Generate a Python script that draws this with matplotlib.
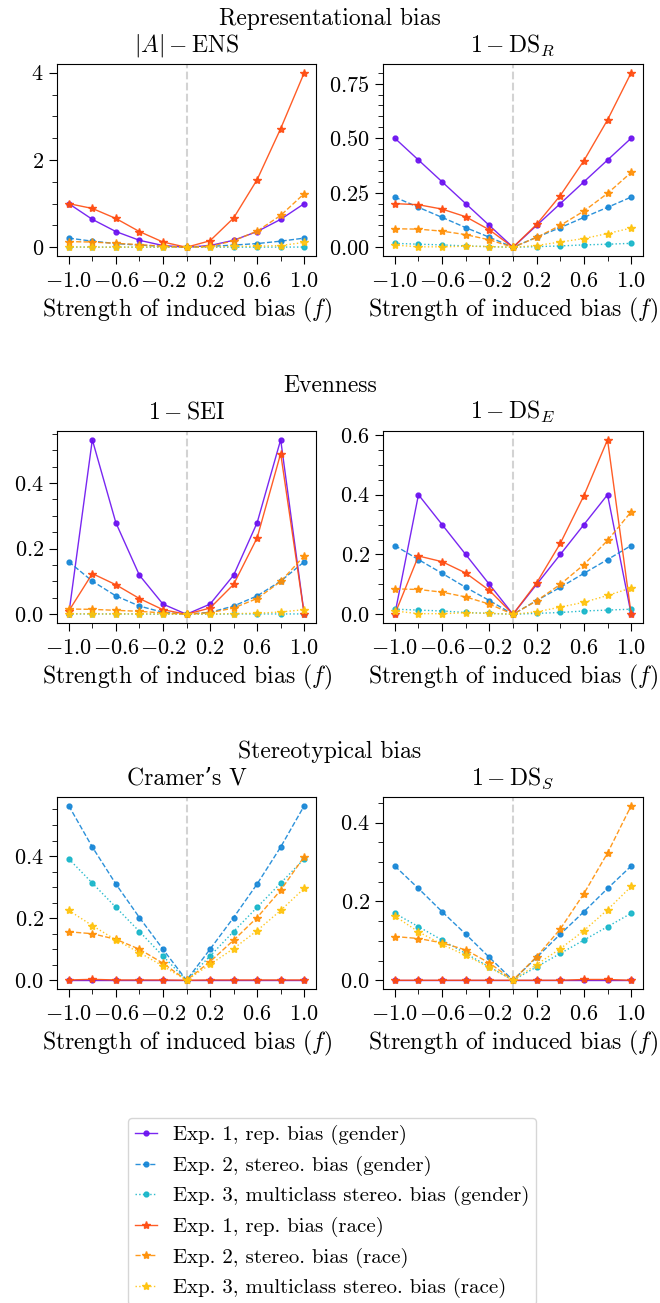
import numpy as np
import matplotlib
matplotlib.use("Agg")
import matplotlib.pyplot as plt
from matplotlib.ticker import AutoMinorLocator, FixedLocator

plt.rcParams["font.family"] = ["cmr10", "DejaVu Serif"]
plt.rcParams["mathtext.fontset"] = "cm"
plt.rcParams["axes.formatter.use_mathtext"] = True
plt.rcParams["axes.unicode_minus"] = True

# ── data ──────────────────────────────────────────────────────────────────────
f_vals = [-1.0, -0.8, -0.6, -0.4, -0.2, 0.0, 0.2, 0.4, 0.6, 0.8, 1.0]

# |A| - ENS
ens_e1g = [1.0, 0.64, 0.36, 0.16, 0.04, 0.0, 0.04, 0.16, 0.36, 0.64, 1.0]
ens_e2g = [0.21, 0.14, 0.085, 0.05, 0.02, 0.0, 0.02, 0.05, 0.085, 0.14, 0.21]
ens_e3g = [0.005, 0.004, 0.003, 0.002, 0.001, 0.0, 0.001, 0.002, 0.003, 0.004, 0.005]
ens_e1r = [1.0, 0.89, 0.66, 0.36, 0.12, 0.0, 0.15, 0.67, 1.55, 2.72, 4.0]
ens_e2r = [0.13, 0.12, 0.09, 0.06, 0.025, 0.0, 0.02, 0.15, 0.37, 0.73, 1.23]
ens_e3r = [0.01, 0.002, 0.002, 0.005, 0.003, 0.0, 0.008, 0.02, 0.025, 0.04, 0.11]

# 1 - DS_R
dsr_e1g = [0.5, 0.4, 0.3, 0.2, 0.1, 0.0, 0.1, 0.2, 0.3, 0.4, 0.5]
dsr_e2g = [0.23, 0.183, 0.137, 0.09, 0.046, 0.0, 0.046, 0.09, 0.137, 0.183, 0.23]
dsr_e3g = [0.018, 0.014, 0.011, 0.006, 0.003, 0.0, 0.003, 0.006, 0.011, 0.014, 0.018]
dsr_e1r = [0.2, 0.195, 0.175, 0.14, 0.08, 0.0, 0.105, 0.237, 0.397, 0.584, 0.8]
dsr_e2r = [0.085, 0.083, 0.074, 0.058, 0.034, 0.0, 0.045, 0.1, 0.166, 0.247, 0.343]
dsr_e3r = [0.01, 0.002, 0.002, 0.005, 0.003, 0.0, 0.008, 0.024, 0.04, 0.063, 0.088]

# 1 - SEI
sei_e1g = [0.0, 0.532, 0.279, 0.119, 0.031, 0.0, 0.031, 0.119, 0.279, 0.532, 0.0]
sei_e2g = [0.16, 0.101, 0.056, 0.025, 0.006, 0.0, 0.006, 0.025, 0.056, 0.101, 0.16]
sei_e3g = [0.001, 0.001, 0.001, 0.001, 0.0, 0.0, 0.0, 0.001, 0.001, 0.001, 0.001]
sei_e1r = [0.01, 0.124, 0.09, 0.048, 0.014, 0.0, 0.019, 0.091, 0.233, 0.49, 0.0]
sei_e2r = [0.016, 0.015, 0.012, 0.009, 0.004, 0.0, 0.005, 0.019, 0.048, 0.1, 0.178]
sei_e3r = [0.002, 0.001, 0.001, 0.001, 0.001, 0.0, 0.001, 0.002, 0.003, 0.007, 0.014]

# 1 - DS_E
dse_e1g = [0.0, 0.4, 0.3, 0.2, 0.1, 0.0, 0.1, 0.2, 0.3, 0.4, 0.0]
dse_e2g = [0.23, 0.183, 0.137, 0.09, 0.046, 0.0, 0.046, 0.09, 0.137, 0.183, 0.23]
dse_e3g = [0.017, 0.014, 0.011, 0.006, 0.003, 0.0, 0.003, 0.006, 0.011, 0.014, 0.017]
dse_e1r = [0.0, 0.195, 0.176, 0.138, 0.08, 0.0, 0.105, 0.237, 0.397, 0.584, 0.0]
dse_e2r = [0.085, 0.083, 0.074, 0.058, 0.034, 0.0, 0.045, 0.1, 0.166, 0.247, 0.343]
dse_e3r = [0.011, 0.002, 0.002, 0.005, 0.003, 0.0, 0.008, 0.024, 0.04, 0.063, 0.088]

# Cramer's V
cv_e1g = [0.0] * 11
cv_e2g = [0.562, 0.429, 0.31, 0.202, 0.1, 0.0, 0.1, 0.202, 0.31, 0.429, 0.562]
cv_e3g = [0.391, 0.313, 0.235, 0.157, 0.078, 0.0, 0.078, 0.157, 0.235, 0.313, 0.391]
cv_e1r = [0.001, 0.003, 0.001, 0.001, 0.001, 0.0, 0.001, 0.001, 0.001, 0.001, 0.001]
cv_e2r = [0.156, 0.15, 0.132, 0.1, 0.055, 0.0, 0.06, 0.129, 0.202, 0.29, 0.398]
cv_e3r = [0.225, 0.176, 0.13, 0.089, 0.046, 0.0, 0.051, 0.102, 0.16, 0.225, 0.296]

# 1 - DS_S
dss_e1g = [0.0] * 11
dss_e2g = [0.29, 0.233, 0.174, 0.117, 0.058, 0.0, 0.058, 0.117, 0.174, 0.233, 0.29]
dss_e3g = [0.17, 0.136, 0.102, 0.068, 0.034, 0.0, 0.034, 0.068, 0.102, 0.136, 0.17]
dss_e1r = [0.0, 0.0, 0.0, 0.0, 0.0, 0.0, 0.0, 0.0, 0.002, 0.002, 0.0]
dss_e2r = [0.111, 0.106, 0.095, 0.077, 0.044, 0.0, 0.06, 0.13, 0.22, 0.323, 0.443]
dss_e3r = [0.163, 0.123, 0.091, 0.063, 0.033, 0.0, 0.04, 0.08, 0.126, 0.179, 0.238]

SERIES_LABELS = [
    "Exp. 1, rep. bias (gender)",
    "Exp. 2, stereo. bias (gender)",
    "Exp. 3, multiclass stereo. bias (gender)",
    "Exp. 1, rep. bias (race)",
    "Exp. 2, stereo. bias (race)",
    "Exp. 3, multiclass stereo. bias (race)",
]
COLORS = ["#6a0ff0", "#1485d6", "#12b4c8", "#ff4b0f", "#ff8f05", "#ffc20a"]
STYLES = ["-", "--", ":", "-", "--", ":"]
MARKERS = ["o", "o", "o", "*", "*", "*"]

PANELS = [
    (r"$|A| - \mathrm{ENS}$", [ens_e1g, ens_e2g, ens_e3g, ens_e1r, ens_e2r, ens_e3r]),
    (r"$1 - \mathrm{DS}_R$", [dsr_e1g, dsr_e2g, dsr_e3g, dsr_e1r, dsr_e2r, dsr_e3r]),
    (r"$1 - \mathrm{SEI}$", [sei_e1g, sei_e2g, sei_e3g, sei_e1r, sei_e2r, sei_e3r]),
    (r"$1 - \mathrm{DS}_E$", [dse_e1g, dse_e2g, dse_e3g, dse_e1r, dse_e2r, dse_e3r]),
    ("Cramer\u2019s V", [cv_e1g, cv_e2g, cv_e3g, cv_e1r, cv_e2r, cv_e3r]),
    (r"$1 - \mathrm{DS}_S$", [dss_e1g, dss_e2g, dss_e3g, dss_e1r, dss_e2r, dss_e3r]),
]
SECTIONS = ["Representational bias", "Evenness", "Stereotypical bias"]

# ── figure ────────────────────────────────────────────────────────────────────
W, H = 660, 1303
fig = plt.figure(figsize=(W / 100, H / 100), dpi=100)

col_left = [57, 383]
col_w = [259, 260]
row_top = [64, 431, 797]
row_h = 192
sec_baseline = [25, 392, 758]

handles = []
for i, (title, series) in enumerate(PANELS):
    r, c = divmod(i, 2)
    ax = fig.add_axes([col_left[c] / W, 1 - (row_top[r] + row_h) / H,
                       col_w[c] / W, row_h / H])
    ax.axvline(0, color="lightgrey", linestyle="--", linewidth=1.5, zorder=0)
    for k, ys in enumerate(series):
        ln, = ax.plot(f_vals, ys, color=COLORS[k], linestyle=STYLES[k],
                      marker=MARKERS[k], markersize=3.5 if MARKERS[k] == "o" else 6,
                      linewidth=1.0, alpha=0.9, label=SERIES_LABELS[k])
        if i == 0:
            handles.append(ln)
    ax.set_title(title, fontsize=17, pad=9)
    ax.set_xlabel(r"Strength of induced bias ($f$)", fontsize=17, labelpad=4)
    ax.xaxis.set_major_locator(FixedLocator([-1.0, -0.6, -0.2, 0.2, 0.6, 1.0]))
    ax.xaxis.set_minor_locator(FixedLocator([-0.8, -0.4, 0.0, 0.4, 0.8]))
    ax.set_xticklabels([r"$-1.0$", r"$-0.6$", r"$-0.2$", r"$0.2$", r"$0.6$", r"$1.0$"])
    ax.yaxis.set_minor_locator(AutoMinorLocator())
    ax.tick_params(axis="both", which="major", labelsize=16, length=6)
    ax.tick_params(axis="x", which="major", pad=5)
    ax.tick_params(axis="both", which="minor", length=3.5)

for y, txt in zip(sec_baseline, SECTIONS):
    fig.text(0.5, 1 - y / H, txt, ha="center", va="baseline", fontsize=17)

fig.legend(handles=handles, loc="upper left",
           bbox_to_anchor=(128 / W, 1 - 1118 / H), borderaxespad=0,
           fontsize=15, handlelength=1.05, handletextpad=0.75,
           borderpad=0.35, labelspacing=0.5, framealpha=0.8,
           edgecolor="#cccccc", fancybox=True)

fig.savefig("out.png", dpi=100)
